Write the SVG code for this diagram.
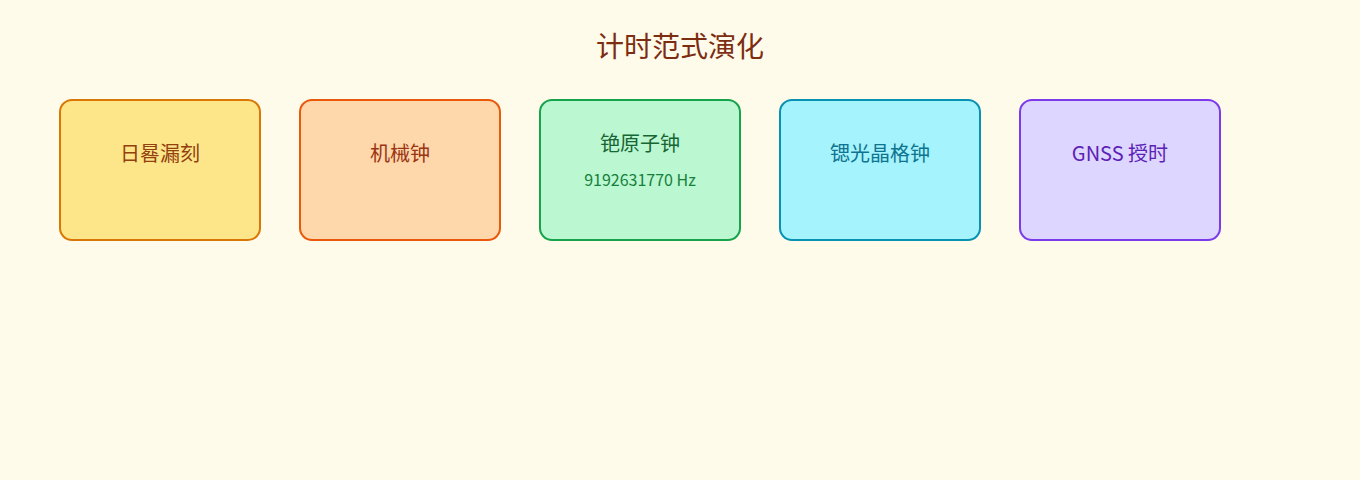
<svg xmlns="http://www.w3.org/2000/svg" width="1360" height="480" viewBox="0 0 1360 480">
<style>
text{font-family:"Noto Sans CJK SC","Noto Sans",sans-serif;text-anchor:middle}
.box{stroke-width:2}
.t{font-size:20px}
.s{font-size:16px}
</style>
<rect width="1360" height="480" fill="#fffbea"/>
<text x="680" y="57" font-size="28" fill="#7c2d12">计时范式演化</text>
<g id="n1"><rect class="box" x="60" y="100" width="200" height="140" rx="12" fill="#fde68a" stroke="#d97706"/><text class="t" x="160" y="161" fill="#92400e">日晷漏刻</text></g>
<g id="n2"><rect class="box" x="300" y="100" width="200" height="140" rx="12" fill="#fed7aa" stroke="#ea580c"/><text class="t" x="400" y="161" fill="#9a3412">机械钟</text></g>
<g id="n3"><rect class="box" x="540" y="100" width="200" height="140" rx="12" fill="#bbf7d0" stroke="#16a34a"/><text class="t" x="640" y="151" fill="#166534">铯原子钟</text><text class="s" x="640" y="186" fill="#15803d">9192631770 Hz</text></g>
<g id="n4"><rect class="box" x="780" y="100" width="200" height="140" rx="12" fill="#a5f3fc" stroke="#0891b2"/><text class="t" x="880" y="161" fill="#0e7490">锶光晶格钟</text></g>
<g id="n5"><rect class="box" x="1020" y="100" width="200" height="140" rx="12" fill="#ddd6fe" stroke="#7c3aed"/><text class="t" x="1120" y="161" fill="#5b21b6">GNSS 授时</text></g>
<g id="connectors"/>
</svg>
